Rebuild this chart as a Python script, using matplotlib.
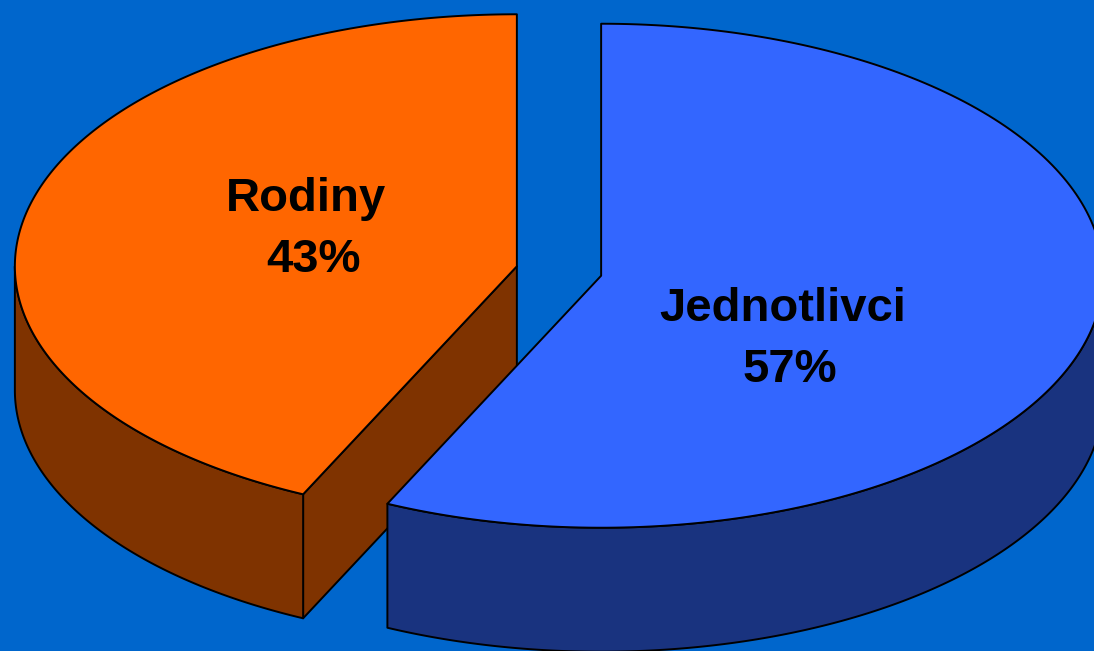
import numpy as np
import matplotlib.pyplot as plt
from matplotlib.patches import Polygon

# data
labels = ["Jednotlivci", "Rodiny"]
values = [57, 43]
top_colors = ["#3366FF", "#FF6600"]
side_colors = ["#19337F", "#7F3300"]
# label anchor in units of the radius, relative to each slice centre (layout only)
label_offsets = [(0.361, -0.298), (-0.420, 0.099)]

bg = "#0066CC"

# pie geometry (pixels)
cx0, cy0 = 559, 271
rx, ry = 502, 252
depth = 124
explode = 0.086


def pt(cx, cy, t):
    """point on the top ellipse, t in degrees (math angle), y grows downwards"""
    r = np.radians(t)
    return cx + rx * np.cos(r), cy - ry * np.sin(r)


def arc(cx, cy, t1, t2, n=200):
    ts = np.linspace(t1, t2, n)
    return np.array([pt(cx, cy, t) for t in ts])


fig = plt.figure(figsize=(10.94, 6.51), dpi=100)
fig.patch.set_facecolor(bg)
ax = fig.add_axes([0, 0, 1, 1])
ax.set_facecolor(bg)
ax.set_xlim(0, 1094)
ax.set_ylim(651, 0)
ax.axis("off")

# slices go clockwise from 12 o'clock
total = float(sum(values))
slices = []
start = 90.0
for i, v in enumerate(values):
    t2 = start
    t1 = start - 360.0 * v / total
    mid = (t1 + t2) / 2
    cx = cx0 + explode * rx * np.cos(np.radians(mid))
    cy = cy0 - explode * ry * np.sin(np.radians(mid))
    slices.append((i, t1, t2, mid, cx, cy))
    start = t1

# back slices first
slices.sort(key=lambda s: -np.sin(np.radians(s[3])))

ec = "black"
lw = 1.4
for i, t1, t2, mid, cx, cy in slices:
    # radial cut faces
    for t, normal in ((t1, t1 - 90), (t2, t2 + 90)):
        if np.sin(np.radians(normal)) < -1e-6:
            px, py = pt(cx, cy, t)
            face = [(cx, cy), (px, py), (px, py + depth), (cx, cy + depth)]
            ax.add_patch(Polygon(face, closed=True, fc=side_colors[i], ec=ec, lw=lw, joinstyle="round"))
    # outer wall (front half only)
    lo = t1
    hi = t2
    # shift to range where the front half is [-180, 0]
    shift = 0
    while lo + shift > 0:
        shift -= 360
    while hi + shift < -180:
        shift += 360
    a = max(lo + shift, -180)
    b = min(hi + shift, 0)
    if b > a:
        top = arc(cx, cy, a, b)
        bot = top[::-1] + np.array([0, depth])
        ax.add_patch(Polygon(np.vstack([top, bot]), closed=True, fc=side_colors[i], ec=ec, lw=lw, joinstyle="round"))
    # top face
    pts = np.vstack([[(cx, cy)], arc(cx, cy, t1, t2)])
    ax.add_patch(Polygon(pts, closed=True, fc=top_colors[i], ec=ec, lw=lw, joinstyle="round"))

    # labels
    ox, oy = label_offsets[i]
    lx = cx + ox * rx
    ly = cy - oy * ry
    pct = "%d%%" % round(100 * values[i] / total)
    font = dict(family=["Liberation Sans", "DejaVu Sans"], weight="bold", fontsize=34, color="black")
    ax.text(lx, ly - 30, labels[i], ha="center", va="baseline", **font)
    ax.text(lx + 7, ly + 31, pct, ha="center", va="baseline", **font)

fig.savefig("out.png", dpi=100, facecolor=bg)
